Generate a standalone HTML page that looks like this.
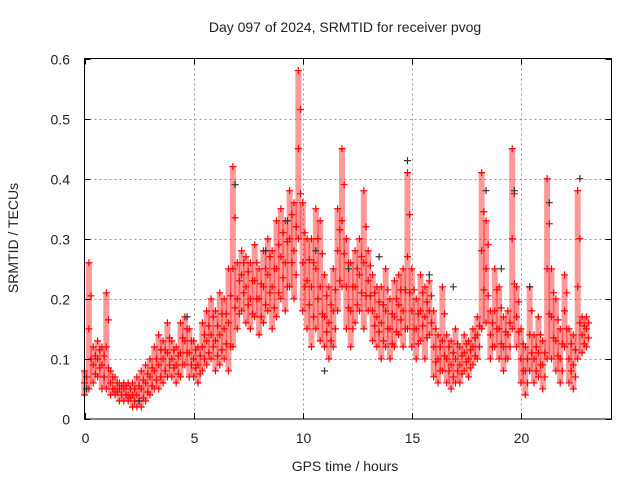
<!DOCTYPE html>
<html><head><meta charset="utf-8"><style>
body{margin:0;background:#fff;}
svg text{font-family:"Liberation Sans",sans-serif;font-size:14px;fill:#222;}
</style></head><body>
<svg id="chart" width="640" height="480" xmlns="http://www.w3.org/2000/svg">
<text x="345" y="32" text-anchor="middle">Day 097 of 2024, SRMTID for receiver pvog</text>
<text transform="translate(18,238) rotate(-90)" text-anchor="middle">SRMTID / TECUs</text>
<text x="345" y="471" text-anchor="middle">GPS time / hours</text>
<g id="grid"></g>
<g id="marks"></g>
<rect x="84.5" y="58.5" width="527" height="360.5" fill="none" stroke="#000" stroke-width="1"/>
<g id="ticks"></g>
</svg>
<script>
const xTicks=[0,5,10,15,20];
const yTicks=[0,0.1,0.2,0.3,0.4,0.5,0.6];
const yTickLabels=["0","0.1","0.2","0.3","0.4","0.5","0.6"];
const times=[0,0.2,0.4,0.6,0.8,1,1.2,1.4,1.6,1.8,2,2.2,2.4,2.6,2.8,3,3.2,3.4,3.6,3.8,4,4.2,4.4,4.6,4.8,5,5.2,5.4,5.6,5.8,6,6.2,6.4,6.6,6.8,7,7.2,7.4,7.6,7.8,8,8.2,8.4,8.6,8.8,9,9.2,9.4,9.6,9.8,10,10.2,10.4,10.6,10.8,11,11.2,11.4,11.6,11.8,12,12.2,12.4,12.6,12.8,13,13.2,13.4,13.6,13.8,14,14.2,14.4,14.6,14.8,15,15.2,15.4,15.6,15.8,16,16.2,16.4,16.6,16.8,17,17.2,17.4,17.6,17.8,18,18.2,18.4,18.6,18.8,19,19.2,19.4,19.6,19.8,20,20.2,20.4,20.6,20.8,21,21.2,21.4,21.6,21.8,22,22.2,22.4,22.6,22.8,23];
const lo=[.04,.05,.06,.07,.05,.05,.04,.04,.03,.03,.03,.02,.02,.02,.03,.04,.05,.05,.06,.07,.07,.06,.07,.09,.07,.07,.06,.08,.09,.10,.08,.09,.10,.08,.12,.15,.18,.16,.15,.17,.14,.16,.18,.15,.17,.20,.18,.22,.20,.30,.18,.15,.12,.15,.13,.12,.10,.12,.18,.22,.15,.12,.16,.18,.15,.18,.13,.12,.10,.12,.10,.12,.14,.12,.15,.12,.10,.13,.10,.14,.07,.06,.08,.06,.05,.06,.06,.08,.07,.09,.10,.15,.16,.10,.12,.10,.08,.10,.15,.12,.06,.04,.08,.06,.07,.05,.10,.10,.08,.06,.12,.06,.05,.10,.11,.12];
const mid=[.06,.15,.09,.10,.09,.12,.06,.05,.05,.05,.04,.04,.04,.05,.06,.07,.08,.09,.10,.11,.10,.09,.11,.13,.11,.10,.09,.12,.13,.14,.13,.14,.15,.16,.25,.20,.24,.22,.20,.23,.20,.22,.24,.22,.25,.27,.26,.30,.28,.45,.26,.23,.22,.25,.22,.17,.16,.18,.28,.33,.22,.18,.22,.24,.26,.23,.18,.17,.16,.18,.15,.17,.19,.18,.27,.18,.15,.18,.17,.18,.12,.10,.13,.10,.09,.10,.09,.11,.10,.12,.14,.28,.25,.14,.18,.15,.12,.14,.30,.17,.10,.08,.14,.10,.11,.09,.25,.17,.13,.10,.18,.10,.09,.22,.14,.15];
const hi=[.08,.26,.12,.13,.12,.21,.08,.07,.06,.06,.06,.06,.07,.08,.09,.10,.12,.14,.13,.16,.13,.12,.16,.17,.15,.13,.12,.16,.18,.20,.18,.21,.20,.25,.42,.26,.28,.27,.26,.29,.25,.28,.30,.28,.33,.35,.33,.38,.36,.58,.36,.30,.30,.35,.33,.24,.22,.25,.35,.45,.30,.26,.28,.30,.38,.28,.24,.22,.22,.25,.20,.23,.24,.25,.41,.25,.20,.24,.22,.23,.18,.14,.22,.14,.13,.15,.12,.14,.13,.15,.17,.41,.33,.18,.25,.22,.17,.18,.45,.22,.15,.12,.22,.14,.17,.13,.40,.25,.20,.15,.24,.15,.14,.38,.17,.17];
const blackT=[4.7,6.9,8.3,9.3,10.6,11.0,13.5,14.8,15.8,18.4,19.1,19.7,21.3,22.7,0.1,2.5,12.1,16.9,20.4];
const blackV=[.17,.39,.28,.33,.28,.08,.27,.43,.24,.38,.25,.38,.36,.40,.05,.03,.25,.22,.22];
const NS="http://www.w3.org/2000/svg";
const X0=84.5,X1=611.5,Y0=419,Y1=58.5;
const xs=t=>X0+t/24.15*(X1-X0);
const ys=v=>Y0-v/0.6*(Y0-Y1);
function mk(tag,attrs,parent){const e=document.createElementNS(NS,tag);for(const k in attrs)e.setAttribute(k,attrs[k]);parent.appendChild(e);return e;}
const grid=document.getElementById('grid'),ticks=document.getElementById('ticks'),marks=document.getElementById('marks');
xTicks.forEach(t=>{const x=Math.round(xs(t))+0.5;
 if(t>0){const g=mk('line',{x1:x,x2:x,y1:Y1,y2:Y0,stroke:'#999','stroke-dasharray':'2,3'},grid);
 
 }
 mk('line',{x1:x,x2:x,y1:Y0,y2:Y0-6,stroke:'#000'},ticks);mk('line',{x1:x,x2:x,y1:Y1,y2:Y1+6,stroke:'#000'},ticks);
 const l=mk('text',{x:x,y:443,'text-anchor':'middle'},ticks);l.textContent=t;
 
 });
yTicks.forEach((v,i)=>{const y=Math.round(ys(v))+0.5;
 if(v>0&&v<0.6){const g=mk('line',{x1:X0,x2:X1,y1:y,y2:y,stroke:'#999','stroke-dasharray':'2,3'},grid);
 
 }
 mk('line',{x1:X0,x2:X0+6,y1:y,y2:y,stroke:'#000'},ticks);mk('line',{x1:X1,x2:X1-6,y1:y,y2:y,stroke:'#000'},ticks);
 const l=mk('text',{x:70,y:y+5,'text-anchor':'end'},ticks);l.textContent=yTickLabels[i];
 
 });
function cross(t,v,col,name){const x=xs(t),y=ys(v);
 const p=mk('path',{d:`M${x-3.5},${y}h7M${x},${y-3.5}v7`,stroke:col,'stroke-width':1.2,fill:'none'},marks);
 
 }
times.forEach((t,i)=>{
 const b=mk('line',{x1:xs(t),x2:xs(t),y1:ys(lo[i]),y2:ys(hi[i]),stroke:'#f00','stroke-width':6,'stroke-opacity':0.4},marks);
 
 
 cross(t,lo[i],'#f00','red-point');cross(t,mid[i],'#f00','red-point');cross(t,hi[i],'#f00','red-point');
 cross(t+0.1,(mid[i]+hi[i])/2,'#f00','red-point');cross(t+0.1,(mid[i]+lo[i])/2,'#f00','red-point');
});
blackT.forEach((t,i)=>cross(t,blackV[i],'#333','black-point'));
</script>
</body></html>
